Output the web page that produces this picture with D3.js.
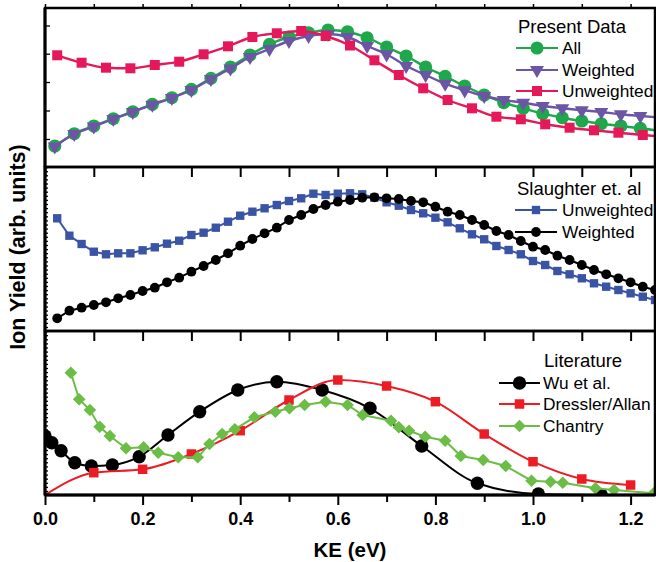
<!DOCTYPE html>
<html><head><meta charset="utf-8">
<script src="https://cdn.jsdelivr.net/npm/d3@7"></script>
<style>body{margin:0;background:#fff}svg{display:block}</style>
</head><body><svg id="c" width="656" height="562"></svg>
<script>
// ---------------- DATA ----------------
const xTickLabels = ["0.0","0.2","0.4","0.6","0.8","1.0","1.2"];
const xTickValues = [0,0.2,0.4,0.6,0.8,1.0,1.2];
const xMinorValues = [0.1,0.3,0.5,0.7,0.9,1.1];

// Present Data
const presKE = [0.02,0.06,0.10,0.14,0.18,0.22,0.26,0.30,0.34,0.38,0.42,0.46,0.50,0.54,0.58,0.62,0.66,0.70,0.74,0.78,0.82,0.86,0.90,0.94,0.98,1.02,1.06,1.10,1.14,1.18,1.22,1.26];
const presAll = [21,33.3,41,48.3,55.3,62.7,69.3,77.7,88.7,100,112,122.7,130,134.3,137,135.3,129.3,120,111,100,90.7,81,72,64.3,58.7,53.3,49.3,46,43.3,41,38.7,36];
const presWeighted = [20.5,33,40.5,48,55,62.3,69,77,88,98.5,110,118,126,131,133,130,121,112.7,101,92,83.3,76.7,71,67,64.3,61,58.7,56.7,55,52.7,51,49.5];
const presUnwKE = [0.025,0.075,0.125,0.175,0.225,0.275,0.325,0.375,0.425,0.475,0.525,0.575,0.625,0.675,0.725,0.775,0.825,0.875,0.925,0.975,1.025,1.075,1.125,1.175,1.225,1.275];
const presUnweighted = [111.7,104.3,99.3,98.7,102,105.3,112.7,120.7,130,133.7,136,131,121.5,106.7,92,78.7,67,58.7,50.3,47.7,42.7,39.3,36.7,34.3,32,30];

// Slaughter et. al
const slKE = [0.025,0.05,0.075,0.1,0.125,0.15,0.175,0.2,0.225,0.25,0.275,0.3,0.325,0.35,0.375,0.4,0.425,0.45,0.475,0.5,0.525,0.55,0.575,0.6,0.625,0.65,0.675,0.7,0.725,0.75,0.775,0.8,0.825,0.85,0.875,0.9,0.925,0.95,0.975,1.0,1.025,1.05,1.075,1.1,1.125,1.15,1.175,1.2,1.225,1.25];
const slUnweighted = [112.7,95.3,87,79.3,76.7,77.7,77.7,80.7,83.7,87.3,90.3,96,98.3,103.3,109.3,115.3,119.3,122.7,126,130,132.7,137.3,136,137.3,137.7,136.7,133.3,128.7,125.3,121,117.7,113.3,108.7,102.7,96.7,91.7,85,81,76.7,70,66,60,56.7,52.7,47.7,44.3,41,37.7,34.3,31];
const slWeighted = [12.7,20.3,23.3,26,28.7,32.7,36,40,43.3,48.7,53.3,59.3,65,71,77.7,85.3,92,97.7,103.3,111,116,122,126,129.3,131,133.3,133.7,132.7,132,130,128.7,124.3,119.3,116,111,106,100,96,90,84.3,81,75.3,71,66,61,56.7,52.7,48.7,44.3,41];

// Literature
const wuKE = [0.0,0.014,0.033,0.061,0.095,0.138,0.193,0.252,0.317,0.395,0.475,0.568,0.666,0.772,0.886,1.011,1.14];
const wuVal = [59,52.3,44.3,32.3,29,30,38.3,60,83.3,105,113.3,105,86.7,49,11.7,1,0];
const drKE = [0.0,0.1,0.2,0.3,0.4,0.5,0.6,0.7,0.8,0.9,1.0,1.1,1.2];
const drVal = [0,22.3,25.7,41,64.3,95,115,109,93.3,61,33.3,16,10];
const chKE = [0.053,0.07,0.092,0.112,0.133,0.166,0.202,0.232,0.273,0.313,0.337,0.363,0.389,0.429,0.472,0.501,0.532,0.575,0.62,0.651,0.709,0.725,0.746,0.779,0.82,0.852,0.898,0.944,0.997,1.036,1.061,1.128,1.166,1.247];
const chVal = [122.3,95.7,85,68.3,59,46.7,47.7,42.3,37.7,37.7,51,61,65.7,77.7,83.3,86.7,90,93.3,90,80,74.3,67.7,64.3,58.3,54.3,39,35,29,14.3,13.3,12.3,6.7,5,1.7];

const topYTicks = [28,56.5,85,113.3,141.5];

// ---------------- CHART ----------------
const svg = d3.select("#c");
const L = 45, R = 655;
const x = d3.scaleLinear().domain([0,1.25]).range([L,R]);
const panels = [
  {top:8, bottom:167, max:159},
  {top:167, bottom:331, max:164},
  {top:331, bottom:495, max:164}
];
const font = "'Liberation Sans', Arial, sans-serif";

panels.forEach((p,i)=>{
  p.y = d3.scaleLinear().domain([0,p.max]).range([p.bottom,p.top]);
  svg.append("clipPath").attr("id","clip"+i).append("rect")
    .attr("x",L).attr("y",p.top).attr("width",R-L).attr("height",p.bottom-p.top);
});

function zip(a,b){return a.map((v,i)=>[v,b[i]]);}

function series(pi, xs, ys, opt){
  const p = panels[pi];
  const g = svg.append("g").attr("clip-path",`url(#clip${pi})`);
  const line = d3.line().x(d=>x(d[0])).y(d=>p.y(d[1])).curve(opt.curve||d3.curveLinear);
  const data = zip(xs,ys);
  g.append("path").datum(data).attr("d",line).attr("fill","none")
    .attr("stroke",opt.color).attr("stroke-width",opt.lw||2);
  const sym = d3.symbol().type(opt.sym).size(opt.size);
  g.selectAll(null).data(data.filter(opt.filter||(()=>true))).enter().append("path")
    .attr("d",sym)
    .attr("transform",d=>`translate(${x(d[0])},${p.y(d[1])}) rotate(${opt.rot||0})`)
    .attr("fill",opt.color);
}

const inRange = d=>d[0]<=1.25;

// Top panel
const cGreen="#1ea84b", cPurple="#6c55a5", cCrimson="#e5185a";
series(0, presKE, presAll, {color:cGreen, sym:d3.symbolCircle, size:135, lw:2.4, curve:d3.curveMonotoneX, filter:inRange});
series(0, presKE, presWeighted, {color:cPurple, sym:d3.symbolTriangle, size:85, rot:180, lw:2.4, curve:d3.curveMonotoneX, filter:inRange});
series(0, presUnwKE, presUnweighted, {color:cCrimson, sym:d3.symbolSquare, size:100, lw:2.4, curve:d3.curveMonotoneX, filter:inRange});

// Middle panel
const cBlue="#3a54a5";
series(1, slKE, slUnweighted, {color:cBlue, sym:d3.symbolSquare, size:70, lw:2});
series(1, slKE, slWeighted, {color:"#000", sym:d3.symbolCircle, size:75, lw:2});

// Bottom panel
const cRed="#ed1c24", cLime="#6bbd45";
series(2, wuKE, wuVal, {color:"#000", sym:d3.symbolCircle, size:140, lw:2, curve:d3.curveMonotoneX});
series(2, drKE, drVal, {color:cRed, sym:d3.symbolSquare, size:90, lw:2, curve:d3.curveMonotoneX, filter:d=>d[1]>0});
series(2, chKE, chVal, {color:cLime, sym:d3.symbolSquare, size:80, rot:45, lw:2});

// Axes / frames
panels.forEach((p,i)=>{
  svg.append("rect").attr("x",L).attr("y",p.top).attr("width",R-L).attr("height",p.bottom-p.top)
    .attr("fill","none").attr("stroke","#000").attr("stroke-width",2.5);
  const gb = svg.append("g").attr("transform",`translate(0,${p.bottom})`);
  const isLast = i===2;
  gb.call(d3.axisBottom(x).tickValues(xTickValues).tickSize(10).tickFormat(isLast?((d,j)=>xTickLabels[j]):""));
  gb.append("g").call(d3.axisBottom(x).tickValues(xMinorValues).tickSize(isLast?7:10).tickFormat(""));
  gb.selectAll(".domain").remove();
  gb.selectAll("line").attr("stroke","#000").attr("stroke-width",2);
  gb.selectAll("text").attr("font-family",font).attr("font-weight","bold").attr("font-size",18)
    .attr("fill","#000").attr("dy","0.95em");
  const gl = svg.append("g").attr("transform",`translate(${L},0)`);
  if(i===0){
    gl.call(d3.axisRight(p.y).tickValues(topYTicks).tickSize(5).tickFormat(""));
  } else {
    gl.call(d3.axisRight(p.y).tickValues(d3.range(4,p.max,4.1)).tickSize(3).tickFormat(""));
  }
  gl.selectAll(".domain").remove();
  gl.selectAll("line").attr("stroke","#000").attr("stroke-width",1.3);
});
const gt = svg.append("g").attr("transform",`translate(0,${panels[0].top})`);
gt.call(d3.axisTop(x).tickValues(xTickValues.concat(xMinorValues)).tickSize(4).tickFormat(""));
gt.selectAll(".domain").remove();
gt.selectAll("line").attr("stroke","#000").attr("stroke-width",1.5);
svg.append("line").attr("x1",L).attr("x2",L).attr("y1",panels[0].top).attr("y2",panels[2].bottom)
  .attr("stroke","#000").attr("stroke-width",3);
svg.append("line").attr("x1",L).attr("x2",R).attr("y1",panels[2].bottom).attr("y2",panels[2].bottom)
  .attr("stroke","#000").attr("stroke-width",3);

// Axis titles
svg.append("text").attr("x",(x(0)+x(1.25))/2).attr("y",557).attr("text-anchor","middle")
  .attr("font-family",font).attr("font-weight","bold").attr("font-size",20.5).text("KE (eV)");
svg.append("text").attr("transform","translate(25,247) rotate(-90)").attr("text-anchor","middle")
  .attr("font-family",font).attr("font-weight","bold").attr("font-size",21.5).text("Ion Yield (arb. units)");

// Legends
function legend(title, tx, ty, items, lx1, lx2, textX, rowY){
  svg.append("text").attr("x",tx).attr("y",ty).attr("font-family",font).attr("font-size",18.5).text(title);
  items.forEach((it,k)=>{
    const yy = rowY[k];
    svg.append("line").attr("x1",lx1).attr("x2",lx2).attr("y1",yy).attr("y2",yy)
      .attr("stroke",it.color).attr("stroke-width",2.2);
    svg.append("path").attr("d",d3.symbol().type(it.sym).size(it.size))
      .attr("transform",`translate(${(lx1+lx2)/2},${yy}) rotate(${it.rot||0})`).attr("fill",it.color);
    svg.append("text").attr("x",textX).attr("y",yy).attr("dy","0.35em")
      .attr("font-family",font).attr("font-size",17.3).text(it.label);
  });
}
legend("Present Data",518,33,[
  {label:"All",color:cGreen,sym:d3.symbolCircle,size:135},
  {label:"Weighted",color:cPurple,sym:d3.symbolTriangle,size:85,rot:180},
  {label:"Unweighted",color:cCrimson,sym:d3.symbolSquare,size:100}
],516,558,562,[48,70,91]);
legend("Slaughter et. al",517,195,[
  {label:"Unweighted",color:cBlue,sym:d3.symbolSquare,size:70},
  {label:"Weighted",color:"#000",sym:d3.symbolCircle,size:75}
],515,557,562,[210,232]);
legend("Literature",544,367,[
  {label:"Wu et al.",color:"#000",sym:d3.symbolCircle,size:140},
  {label:"Dressler/Allan",color:cRed,sym:d3.symbolSquare,size:90},
  {label:"Chantry",color:cLime,sym:d3.symbolSquare,size:80,rot:45}
],499,540,543,[383,404,426]);
</script></body></html>
